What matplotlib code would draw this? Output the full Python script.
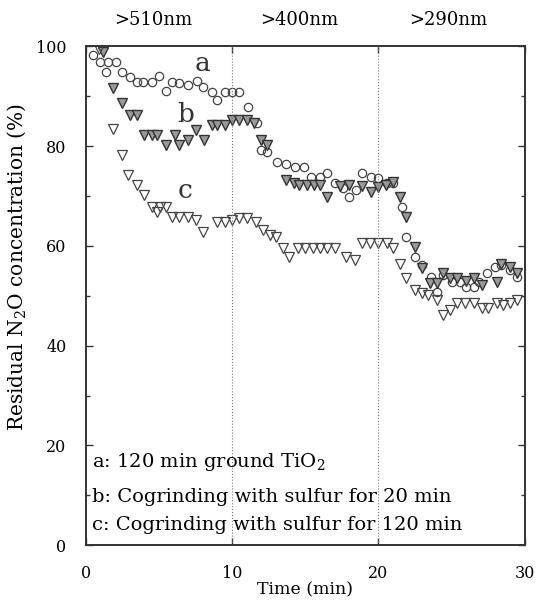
import numpy as np
import matplotlib.pyplot as plt

# a: 120 min ground TiO2 (open circles)
t_a = [0.5, 1.0, 1.4, 1.5, 2.1, 2.5, 3.0, 3.5, 3.9, 4.5, 5.0, 5.5, 5.9, 6.4, 7.0, 7.6,
       8.0, 8.6, 9.0, 9.5, 10.0, 10.5, 11.1, 11.7, 12.0, 12.4, 13.1, 13.7, 14.3, 14.9,
       15.4, 16.0, 16.5, 17.0, 17.6, 18.0, 18.5, 18.9, 19.5, 20.0, 20.6, 21.0, 21.6,
       21.9, 22.5, 23.0, 23.6, 24.0, 24.4, 25.0, 25.6, 26.0, 26.5, 26.9, 27.4, 28.0,
       28.4, 29.0, 29.5]
v_a = [98.3, 96.9, 94.9, 96.9, 96.9, 94.9, 93.9, 92.9, 92.9, 92.9, 94.1, 91.1, 92.9, 92.7,
       92.3, 93.1, 91.9, 90.9, 89.3, 90.9, 90.9, 90.9, 87.9, 84.7, 79.2, 78.8, 76.8, 76.4,
       75.8, 75.8, 73.8, 73.8, 74.6, 72.6, 71.6, 69.8, 71.2, 74.6, 73.8, 73.6, 72.6, 72.6,
       67.8, 61.8, 57.8, 56.2, 53.8, 50.8, 54.2, 52.8, 52.8, 51.8, 51.8, 52.8, 54.6, 55.8,
       56.2, 55.2, 53.8]

# b: cogrinding with sulfur for 20 min (grey triangles)
t_b = [1.2, 1.85, 2.5, 3.0, 3.5, 4.0, 4.5, 4.9, 5.5, 6.1, 6.4, 7.0, 7.5, 8.1, 8.6, 9.0,
       9.5, 10.0, 10.5, 11.0, 11.5, 12.0, 12.4, 13.7, 14.2, 14.6, 15.1, 15.6, 16.0, 16.5,
       17.4, 18.0, 18.9, 19.5, 20.0, 20.5, 21.0, 21.5, 21.9, 22.5, 23.0, 23.5, 24.0, 24.4,
       24.9, 25.4, 26.0, 26.5, 27.1, 28.1, 28.4, 29.0, 29.5]
v_b = [98.8, 91.7, 88.7, 86.3, 86.3, 82.2, 82.2, 82.2, 80.2, 82.2, 80.2, 81.2, 83.2, 81.2,
       84.2, 84.2, 84.2, 85.2, 85.2, 85.2, 84.6, 81.2, 80.2, 73.2, 72.6, 72.2, 72.2, 72.2,
       72.2, 69.8, 72.0, 72.2, 72.0, 70.8, 71.8, 72.2, 72.8, 69.8, 65.8, 59.7, 55.6, 52.6,
       52.6, 54.6, 53.6, 53.6, 53.0, 53.6, 52.2, 52.8, 56.4, 55.8, 54.6]

# c: cogrinding with sulfur for 120 min (open triangles)
t_c = [0.9, 1.85, 2.5, 2.9, 3.5, 4.0, 4.5, 5.1, 4.9, 5.5, 5.9, 6.4, 7.0, 7.5, 8.0, 9.0,
       9.5, 10.0, 10.5, 11.0, 11.6, 12.1, 12.6, 13.0, 13.5, 13.9, 14.5, 15.0, 15.5, 16.0,
       16.5, 17.0, 17.8, 18.4, 18.9, 19.4, 20.0, 20.6, 21.0, 21.5, 21.9, 22.5, 23.0, 23.4,
       24.0, 24.4, 24.9, 25.4, 25.9, 26.5, 27.1, 27.5, 28.1, 28.5, 29.0, 29.5]
v_c = [99.5, 83.5, 78.2, 74.2, 72.2, 70.2, 67.8, 67.8, 66.8, 67.8, 65.8, 65.8, 65.8, 65.2,
       62.8, 64.8, 64.8, 65.2, 65.6, 65.6, 64.8, 63.2, 62.2, 61.8, 59.6, 57.8, 59.6, 59.6,
       59.6, 59.6, 59.6, 59.6, 57.8, 57.2, 60.6, 60.6, 60.6, 60.6, 59.6, 56.4, 53.6, 51.2,
       50.6, 50.2, 49.2, 46.1, 47.1, 48.5, 48.5, 48.5, 47.5, 47.5, 48.5, 48.1, 48.5, 49.2]

regions = ['>510nm', '>400nm', '>290nm']
region_x = [4.6, 14.6, 24.8]
legend_lines = ['a: 120 min ground TiO$_2$',
                'b: Cogrinding with sulfur for 20 min',
                'c: Cogrinding with sulfur for 120 min']
legend_y = [16.6, 9.6, 4.0]

plt.rcParams['font.family'] = ['DejaVu Serif']
plt.rcParams['mathtext.fontset'] = 'dejavuserif'

fig = plt.figure(figsize=(5.36, 6.03), dpi=100)
ax = fig.add_axes([0.160, 0.096, 0.819, 0.827])

ax.plot(t_a, v_a, 'o', ms=6, mfc='none', mec='#444444', mew=0.9)
ax.plot(t_b, v_b, 'v', ms=7, mfc='#999999', mec='#333333', mew=1.0)
ax.plot(t_c, v_c, 'v', ms=7, mfc='none', mec='#444444', mew=0.9)

for xv in [10, 20]:
    ax.axvline(xv, color='#777777', ls=':', lw=0.8)

ax.set_xlim(0, 30)
ax.set_ylim(0, 100)
ax.set_xticks([0, 10, 20, 30])
ax.set_yticks([0, 20, 40, 60, 80, 100])
ax.set_yticks(np.arange(10, 100, 20), minor=True)
ax.tick_params(which='both', direction='in', top=True, right=True, labelsize=11.5,
               width=1.0, color='#333333')
ax.tick_params(axis='y', pad=14)
ax.tick_params(axis='x', pad=14)
ax.tick_params(which='major', length=5)
ax.tick_params(which='minor', length=3)
for s in ax.spines.values():
    s.set_linewidth(1.4)
    s.set_color('#333333')

ax.set_xlabel('Time (min)', fontsize=12.5, va='center')
ax.xaxis.set_label_coords(0.5, -0.09)
ax.set_ylabel('Residual N$_2$O concentration (%)', fontsize=14.5)
ax.yaxis.set_label_coords(-0.132, 0.558)

for txt, xv in zip(regions, region_x):
    ax.text(xv, 105.3, txt, ha='center', va='center', fontsize=13)

ax.text(8.0, 96.5, 'a', ha='center', va='center', fontsize=19, color='#333333')
ax.text(6.8, 86.3, 'b', ha='center', va='center', fontsize=19, color='#333333')
ax.text(6.8, 71.2, 'c', ha='center', va='center', fontsize=19, color='#333333')

for line, yv in zip(legend_lines, legend_y):
    ax.text(0.45, yv, line, ha='left', va='center', fontsize=14)

fig.savefig('out.png', dpi=100)
